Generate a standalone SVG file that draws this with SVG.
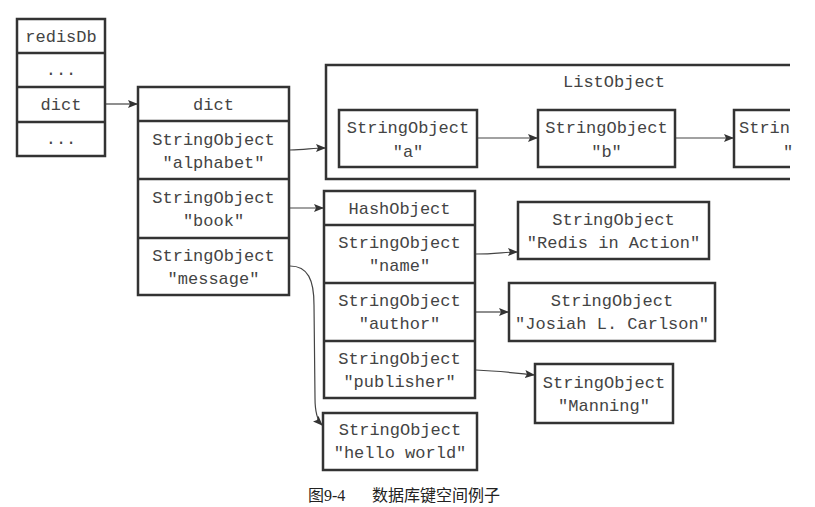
<svg xmlns="http://www.w3.org/2000/svg" width="815" height="507" viewBox="0 0 815 507">
<defs>
<marker id="ah" markerWidth="10" markerHeight="8" refX="9" refY="4" orient="auto" markerUnits="userSpaceOnUse">
<path d="M0,0 L10,4 L0,8 L2,4 Z" fill="#333"/>
</marker>
</defs>
<style>
.b{fill:#fff;stroke:#333;stroke-width:2.5}
.l{fill:none;stroke:#333;stroke-width:2.5}
.t{font-family:"Liberation Mono","DejaVu Sans Mono",monospace;font-size:17px;fill:#444;text-anchor:middle}
.s{text-anchor:start}
.c{fill:none;stroke:#444;stroke-width:1.2;marker-end:url(#ah)}
.cap{font-family:"Liberation Serif","Noto Sans CJK SC",serif;font-size:16px;fill:#222}
</style>
<rect width="815" height="507" fill="#fff"/>

<g id="redisDb">
<rect class="b" x="17" y="19" width="88" height="137"/>
<line class="l" x1="17" y1="53" x2="105" y2="53"/>
<line class="l" x1="17" y1="87" x2="105" y2="87"/>
<line class="l" x1="17" y1="122" x2="105" y2="122"/>
<text class="t" x="61" y="42">redisDb</text>
<text class="t" x="61" y="75">...</text>
<text class="t" x="61" y="110">dict</text>
<text class="t" x="61" y="144">...</text>
</g>

<g id="dict">
<rect class="b" x="138" y="87" width="151" height="208"/>
<line class="l" x1="138" y1="121" x2="289" y2="121"/>
<line class="l" x1="138" y1="179" x2="289" y2="179"/>
<line class="l" x1="138" y1="238" x2="289" y2="238"/>
<text class="t" x="213.5" y="110">dict</text>
<text class="t" x="213.5" y="145">StringObject</text>
<text class="t" x="213.5" y="168">"alphabet"</text>
<text class="t" x="213.5" y="203">StringObject</text>
<text class="t" x="213.5" y="226">"book"</text>
<text class="t" x="213.5" y="261">StringObject</text>
<text class="t" x="213.5" y="284">"message"</text>
</g>

<g id="listobject">
<path class="l" d="M790,65 L326,65 L326,179 L790,179"/>
<text class="t" x="614" y="87">ListObject</text>
<rect class="b" x="339" y="110" width="138" height="57"/>
<text class="t" x="408" y="133">StringObject</text>
<text class="t" x="408" y="157">"a"</text>
<rect class="b" x="538" y="110" width="137" height="57"/>
<text class="t" x="606.5" y="133">StringObject</text>
<text class="t" x="606.5" y="157">"b"</text>
<path class="l" d="M790,110 L734,110 L734,167 L790,167"/>
<text class="t s" x="739" y="133">Strin</text>
<text class="t s" x="783" y="157">"</text>
</g>

<g id="hashobject">
<rect class="b" x="324" y="191" width="151" height="207"/>
<line class="l" x1="324" y1="225" x2="475" y2="225"/>
<line class="l" x1="324" y1="283" x2="475" y2="283"/>
<line class="l" x1="324" y1="341" x2="475" y2="341"/>
<text class="t" x="399.5" y="214">HashObject</text>
<text class="t" x="399.5" y="248">StringObject</text>
<text class="t" x="399.5" y="271">"name"</text>
<text class="t" x="399.5" y="306">StringObject</text>
<text class="t" x="399.5" y="329">"author"</text>
<text class="t" x="399.5" y="364">StringObject</text>
<text class="t" x="399.5" y="387">"publisher"</text>
</g>

<g id="redis-in-action">
<rect class="b" x="518" y="202" width="191" height="57"/>
<text class="t" x="613.5" y="225">StringObject</text>
<text class="t" x="613.5" y="248">"Redis in Action"</text>
</g>

<g id="josiah">
<rect class="b" x="509" y="283" width="206" height="58"/>
<text class="t" x="612" y="306">StringObject</text>
<text class="t" x="612" y="329">"Josiah L. Carlson"</text>
</g>

<g id="manning">
<rect class="b" x="535" y="364" width="138" height="59"/>
<text class="t" x="604" y="388">StringObject</text>
<text class="t" x="604" y="411">"Manning"</text>
</g>

<g id="hello-world">
<rect class="b" x="323" y="413" width="154" height="57"/>
<text class="t" x="400" y="435">StringObject</text>
<text class="t" x="400" y="458">"hello world"</text>
</g>

<g id="connectors">
<path class="c" d="M106,104 L137,104"/>
<path class="c" d="M290,150 C305,150 312,148 325,148"/>
<path class="c" d="M290,208 L323,208"/>
<path class="c" d="M476,254 C495,254 505,252 517,252"/>
<path class="c" d="M476,312 L508,312"/>
<path class="c" d="M476,370 C500,371 515,373 534,375"/>
<path class="c" d="M478,138 L537,138"/>
<path class="c" d="M676,138 L733,138"/>
<path class="c" d="M290,266 C308,266 314,280 314,305 L315,398 C315,412 317,420 322,425"/>
</g>

<text class="cap" x="308" y="501">图9-4<tspan x="372">数据库键空间例子</tspan></text>
</svg>
